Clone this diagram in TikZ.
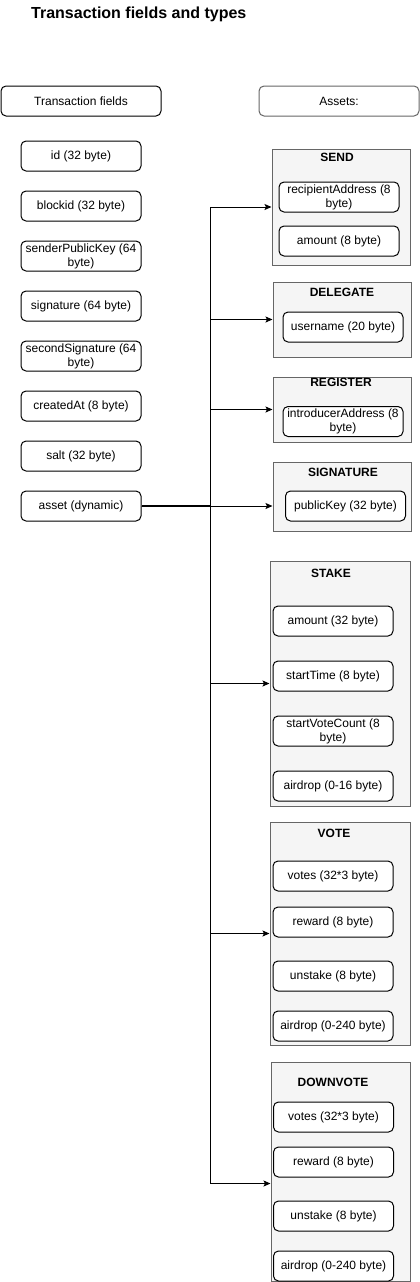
\documentclass[tikz,border=0pt]{standalone}
\usepackage{fontspec}
\setmainfont{Liberation Sans}
\usetikzlibrary{arrows.meta}
\definecolor{grpfill}{HTML}{F5F5F5}
\definecolor{grpline}{HTML}{666666}
\newcommand{\fs}{\fontsize{12}{14}\selectfont}
\begin{document}
\begin{tikzpicture}[x=1pt,y=-1pt,
  fieldbox/.style={draw=black, fill=white, rounded corners=5pt, minimum width=120pt,
    minimum height=30pt, inner sep=0pt, align=center, font=\fs, line width=1pt},
  headbox/.style={fieldbox, minimum width=160pt},
  group/.style={draw=grpline, fill=grpfill, line width=1pt, inner sep=0pt},
  grouptitle/.style={font=\bfseries\fs, inner sep=0pt},
  edge/.style={draw=black, line width=1pt, -{Stealth[length=7pt,width=6pt,inset=1.5pt]}}]
\useasboundingbox (0,0) rectangle (420,1282);

\node[anchor=west, font=\bfseries\fontsize{16}{19}\selectfont, inner sep=0pt] (title) at (31,14) {Transaction fields and types};

\node[headbox] (tf) at (81,101) {Transaction fields};
\node[headbox, draw=grpline] (assets) at (339,101) {Assets:};

% transaction fields
\node[fieldbox] (id) at (81,156) {id (32 byte)};
\node[fieldbox] (blockid) at (81,206) {blockid (32 byte)};
\node[fieldbox] (spk) at (81,256) {senderPublicKey (64\\byte)};
\node[fieldbox] (sig) at (81,306) {signature (64 byte)};
\node[fieldbox] (ssig) at (81,356) {secondSignature (64\\byte)};
\node[fieldbox] (created) at (81,406) {createdAt (8 byte)};
\node[fieldbox] (salt) at (81,456) {salt (32 byte)};
\node[fieldbox] (asset) at (81,506) {asset (dynamic)};

% SEND
\node[group, minimum width=138pt, minimum height=116pt] (send) at (341,207) {};
\node[grouptitle] (sendt) at (337,157) {SEND};
\node[fieldbox] (recip) at (339,197) {recipientAddress (8\\byte)};
\node[fieldbox] (samount) at (339,241) {amount (8 byte)};

% DELEGATE
\node[group, minimum width=138pt, minimum height=75pt] (deleg) at (342,319.5) {};
\node[grouptitle] (delegt) at (342,292) {DELEGATE};
\node[fieldbox] (user) at (343,327) {username (20 byte)};

% REGISTER
\node[group, minimum width=138pt, minimum height=65pt] (reg) at (342,409.5) {};
\node[grouptitle] (regt) at (341,382) {REGISTER};
\node[fieldbox] (intro) at (343,421.5) {introducerAddress (8\\byte)};

% SIGNATURE
\node[group, minimum width=138pt, minimum height=69pt] (sgn) at (342,496.5) {};
\node[grouptitle] (sgnt) at (343,472) {SIGNATURE};
\node[fieldbox] (pk) at (345.5,506) {publicKey (32 byte)};

% STAKE
\node[group, minimum width=140pt, minimum height=245pt] (stake) at (340,683.5) {};
\node[grouptitle] (staket) at (331,573) {STAKE};
\node[fieldbox] (stamount) at (333,621) {amount (32 byte)};
\node[fieldbox] (sttime) at (333,676) {startTime (8 byte)};
\node[fieldbox] (stvote) at (333,731) {startVoteCount (8\\byte)};
\node[fieldbox] (stair) at (333,786) {airdrop (0-16 byte)};

% VOTE
\node[group, minimum width=140pt, minimum height=223pt] (vote) at (340,933.5) {};
\node[grouptitle] (votet) at (334,833) {VOTE};
\node[fieldbox] (vvotes) at (333,876) {votes (32*3 byte)};
\node[fieldbox] (vreward) at (333,922) {reward (8 byte)};
\node[fieldbox] (vunstake) at (333,976) {unstake (8 byte)};
\node[fieldbox] (vair) at (333,1026) {airdrop (0-240 byte)};

% DOWNVOTE
\node[group, minimum width=139pt, minimum height=219pt] (down) at (340.5,1171.5) {};
\node[grouptitle] (downt) at (333,1082) {DOWNVOTE};
\node[fieldbox] (dvotes) at (333.5,1117) {votes (32*3 byte)};
\node[fieldbox] (dreward) at (333.5,1162) {reward (8 byte)};
\node[fieldbox] (dunstake) at (333.5,1216) {unstake (8 byte)};
\node[fieldbox] (dair) at (333.5,1266) {airdrop (0-240 byte)};

% connectors
\coordinate (trunk) at (210,506);
\draw[line width=2pt] (asset.east) -- (trunk);
\draw[edge] (asset.east) -- (trunk) |- (send.west);
\draw[edge] (asset.east) -- (trunk) |- (deleg.west);
\draw[edge] (asset.east) -- (trunk) |- (reg.west);
\draw[edge] (asset.east) -- (asset.east -| sgn.west);
\draw[edge] (asset.east) -- (trunk) |- (stake.west);
\draw[edge] (asset.east) -- (trunk) |- (vote.west);
\draw[edge] (asset.east) -- (trunk) |- ([yshift=-12pt]down.west);
\end{tikzpicture}
\end{document}
